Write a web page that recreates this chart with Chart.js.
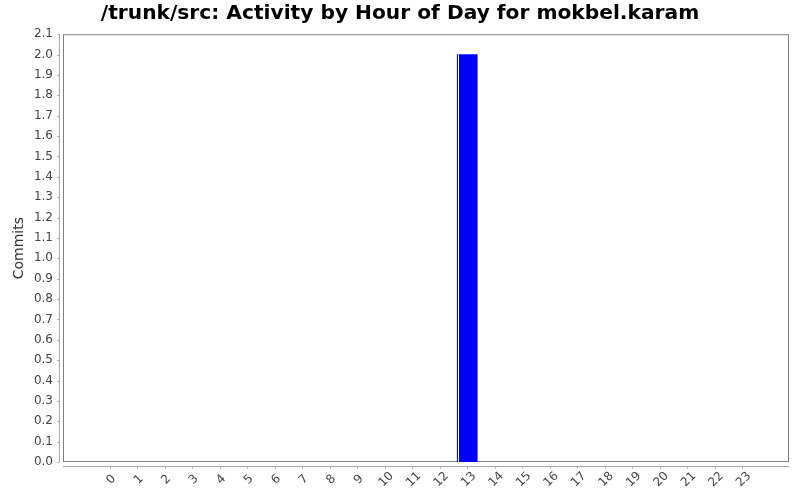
<!DOCTYPE html>
<html>
<head>
<meta charset="utf-8">
<title>Activity by Hour of Day</title>
<script src="https://cdn.jsdelivr.net/npm/chart.js@4.4.1/dist/chart.umd.min.js"></script>
<style>
  body { margin: 0; background: #fff; }
  canvas { display: block; }
</style>
</head>
<body>
<canvas id="hour-chart" width="800" height="500"></canvas>
<script>
// Data for the chart
const hours = [0, 1, 2, 3, 4, 5, 6, 7, 8, 9, 10, 11, 12, 13, 14, 15, 16, 17, 18, 19, 20, 21, 22, 23];
const commits = [0, 0, 0, 0, 0, 0, 0, 0, 0, 0, 0, 0, 0, 2, 0, 0, 0, 0, 0, 0, 0, 0, 0, 0];
const yMax = 2.1;
const yStep = 0.1;

const tickFont = { family: 'DejaVu Sans', size: 12 };

// frame, detached axis lines, tick marks and centred 45deg hour labels
const axesPlugin = {
  id: 'detachedAxes',
  beforeDatasetsDraw(chart) {
    const { ctx, chartArea: a, scales } = chart;
    ctx.save();
    ctx.lineWidth = 1;
    ctx.strokeStyle = '#808080';
    ctx.strokeRect(a.left + 0.5, a.top + 0.5, a.right - a.left - 1, a.bottom - a.top - 1);

    ctx.strokeStyle = '#a8a8a8';
    ctx.beginPath();
    // y axis
    const ax = a.left - 3.5;
    ctx.moveTo(ax, a.top);
    ctx.lineTo(ax, a.bottom);
    scales.y.ticks.forEach(t => {
      const py = Math.round(scales.y.getPixelForValue(t.value)) + 0.5;
      ctx.moveTo(ax - 2, py);
      ctx.lineTo(ax, py);
    });
    // x axis
    const ay = a.bottom + 4.5;
    ctx.moveTo(a.left, ay);
    ctx.lineTo(a.right, ay);
    scales.x.ticks.forEach(t => {
      const px = Math.round(scales.x.getPixelForValue(t.value)) + 0.5;
      ctx.moveTo(px, ay);
      ctx.lineTo(px, ay + 2);
    });
    ctx.stroke();

    // hour labels, rotated about their centre
    ctx.fillStyle = '#444444';
    ctx.font = '12px "DejaVu Sans"';
    ctx.textAlign = 'center';
    ctx.textBaseline = 'middle';
    scales.x.ticks.forEach(t => {
      const px = scales.x.getPixelForValue(t.value);
      ctx.save();
      ctx.translate(px + 1.5, a.bottom + 17.5);
      ctx.rotate(-Math.PI / 4);
      ctx.fillText(String(t.value), 0, 0);
      ctx.restore();
    });
    ctx.restore();
  },
  afterDatasetsDraw(chart) {
    const { ctx } = chart;
    ctx.save();
    ctx.strokeStyle = '#ffffff';
    ctx.lineWidth = 1;
    chart.getDatasetMeta(0).data.forEach(bar => {
      const p = bar.getProps(['x', 'y', 'base', 'width']);
      if (Math.abs(p.base - p.y) < 1) return;
      const sx = Math.round(p.x - p.width / 2) + 1.5;
      ctx.beginPath();
      ctx.moveTo(sx, p.y);
      ctx.lineTo(sx, p.base);
      ctx.stroke();
    });
    ctx.restore();
  }
};

const ctx = document.getElementById('hour-chart').getContext('2d');

const hourChart = new Chart(ctx, {
  type: 'bar',
  data: {
    datasets: [{
      label: 'Commits',
      data: hours.map((h, i) => ({ x: h, y: commits[i] })),
      // empty hours get no visible sliver on the base line
      backgroundColor: c => (c.raw && c.raw.y > 0 ? '#0000ff' : 'rgba(0,0,0,0)'),
      borderWidth: 0,
      barThickness: 20
    }]
  },
  options: {
    responsive: false,
    animation: false,
    layout: { padding: { top: 0, right: 11, bottom: 0, left: 11 } },
    plugins: {
      legend: { display: false },
      tooltip: { enabled: false },
      title: {
        display: true,
        text: '/trunk/src: Activity by Hour of Day for mokbel.karam',
        color: '#000000',
        font: { family: 'DejaVu Sans', size: 20.2, weight: 'bold' },
        padding: { top: 2, bottom: 8 }
      }
    },
    scales: {
      x: {
        type: 'linear',
        offset: false,
        min: -1.7,
        max: 24.7,
        grid: { display: false, drawTicks: false },
        border: { display: false },
        afterBuildTicks: scale => {
          scale.ticks = hours.map(h => ({ value: h }));
        },
        afterFit: scale => { scale.height = 38; },
        ticks: { display: false, autoSkip: false }
      },
      y: {
        min: 0,
        max: yMax,
        grid: { display: false, drawTicks: false },
        border: { display: false },
        afterFit: scale => { scale.width = 52; },
        ticks: {
          stepSize: yStep,
          padding: 10,
          color: '#444444',
          font: tickFont,
          callback: v => v.toFixed(1)
        },
        title: {
          display: true,
          text: 'Commits',
          color: '#333333',
          font: { family: 'DejaVu Sans', size: 14 },
          padding: { top: 0, bottom: 0 }
        }
      }
    }
  },
  plugins: [axesPlugin]
});
</script>
</body>
</html>
